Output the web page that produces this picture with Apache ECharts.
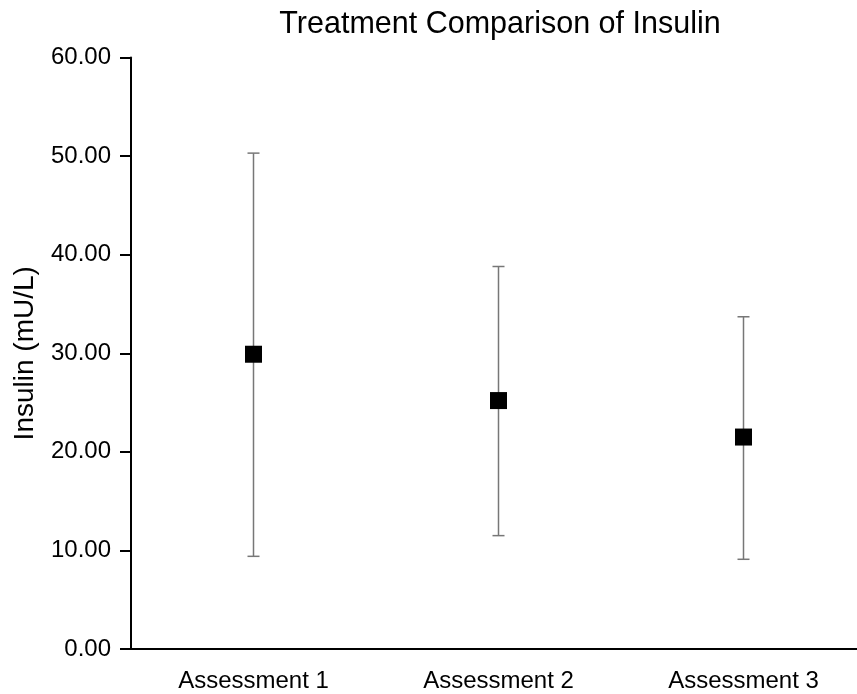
<!DOCTYPE html>
<html>
<head>
<meta charset="utf-8">
<script src="https://cdn.jsdelivr.net/npm/echarts@6/dist/echarts.min.js"></script>
<style>
  html, body { margin: 0; padding: 0; background: #fff; }
  #main { width: 857px; height: 694px; }
</style>
</head>
<body>
<div id="main"></div>
<script>
// data
var categories = ['Assessment 1', 'Assessment 2', 'Assessment 3'];
var means = [29.9, 25.2, 21.5];
var upper = [50.3, 38.8, 33.7];
var lower = [9.4, 11.5, 9.1];
var yTicks = [0, 10, 20, 30, 40, 50, 60];

var font = 'Liberation Sans, Arial, sans-serif';
var chart = echarts.init(document.getElementById('main'));

// error bars: vertical line plus caps
function renderBar(params, api) {
  var x = api.value(0);
  var top = api.coord([x, api.value(2)]);
  var bot = api.coord([x, api.value(1)]);
  var half = 6;
  var style = { stroke: '#777', lineWidth: 1.5 };
  return {
    type: 'group',
    children: [
      { type: 'line', shape: { x1: top[0], y1: top[1], x2: bot[0], y2: bot[1] }, style: style },
      { type: 'line', shape: { x1: top[0] - half, y1: top[1], x2: top[0] + half, y2: top[1] }, style: style },
      { type: 'line', shape: { x1: bot[0] - half, y1: bot[1], x2: bot[0] + half, y2: bot[1] }, style: style }
    ]
  };
}

var barData = categories.map(function (c, i) { return [i, lower[i], upper[i]]; });

var option = {
  backgroundColor: '#fff',
  animation: false,
  title: {
    text: 'Treatment Comparison of Insulin',
    left: 495,
    top: 4,
    textAlign: 'center',
    textStyle: { fontFamily: font, fontSize: 30.5, fontWeight: 'normal', color: '#000' }
  },
  grid: {
    left: 131,
    top: 57.5,
    width: 735,
    bottom: 45,
    outerBoundsMode: 'none'
  },
  xAxis: {
    type: 'category',
    data: categories,
    boundaryGap: true,
    axisLine: { lineStyle: { color: '#000', width: 2 } },
    axisTick: { alignWithLabel: true, length: 11, lineStyle: { color: '#000', width: 2 } },
    axisLabel: { fontFamily: font, fontSize: 24, color: '#000', margin: 20 }
  },
  yAxis: {
    type: 'value',
    min: yTicks[0],
    max: yTicks[yTicks.length - 1],
    interval: 10,
    name: 'Insulin (mU/L)',
    nameLocation: 'middle',
    nameGap: 92,
    nameTextStyle: { fontFamily: font, fontSize: 28, color: '#000' },
    axisLine: { show: true, lineStyle: { color: '#000', width: 2 } },
    axisTick: { show: true, length: 11, lineStyle: { color: '#000', width: 2 } },
    axisLabel: {
      fontFamily: font, fontSize: 24, color: '#000', margin: 20,
      formatter: function (v) { return v.toFixed(2); }
    },
    splitLine: { show: false }
  },
  series: [
    {
      type: 'custom',
      renderItem: renderBar,
      data: barData,
      z: 1
    },
    {
      type: 'scatter',
      data: means,
      symbol: 'rect',
      symbolSize: 17,
      itemStyle: { color: '#000', opacity: 1 },
      z: 2
    }
  ]
};

chart.setOption(option);
</script>
</body>
</html>
